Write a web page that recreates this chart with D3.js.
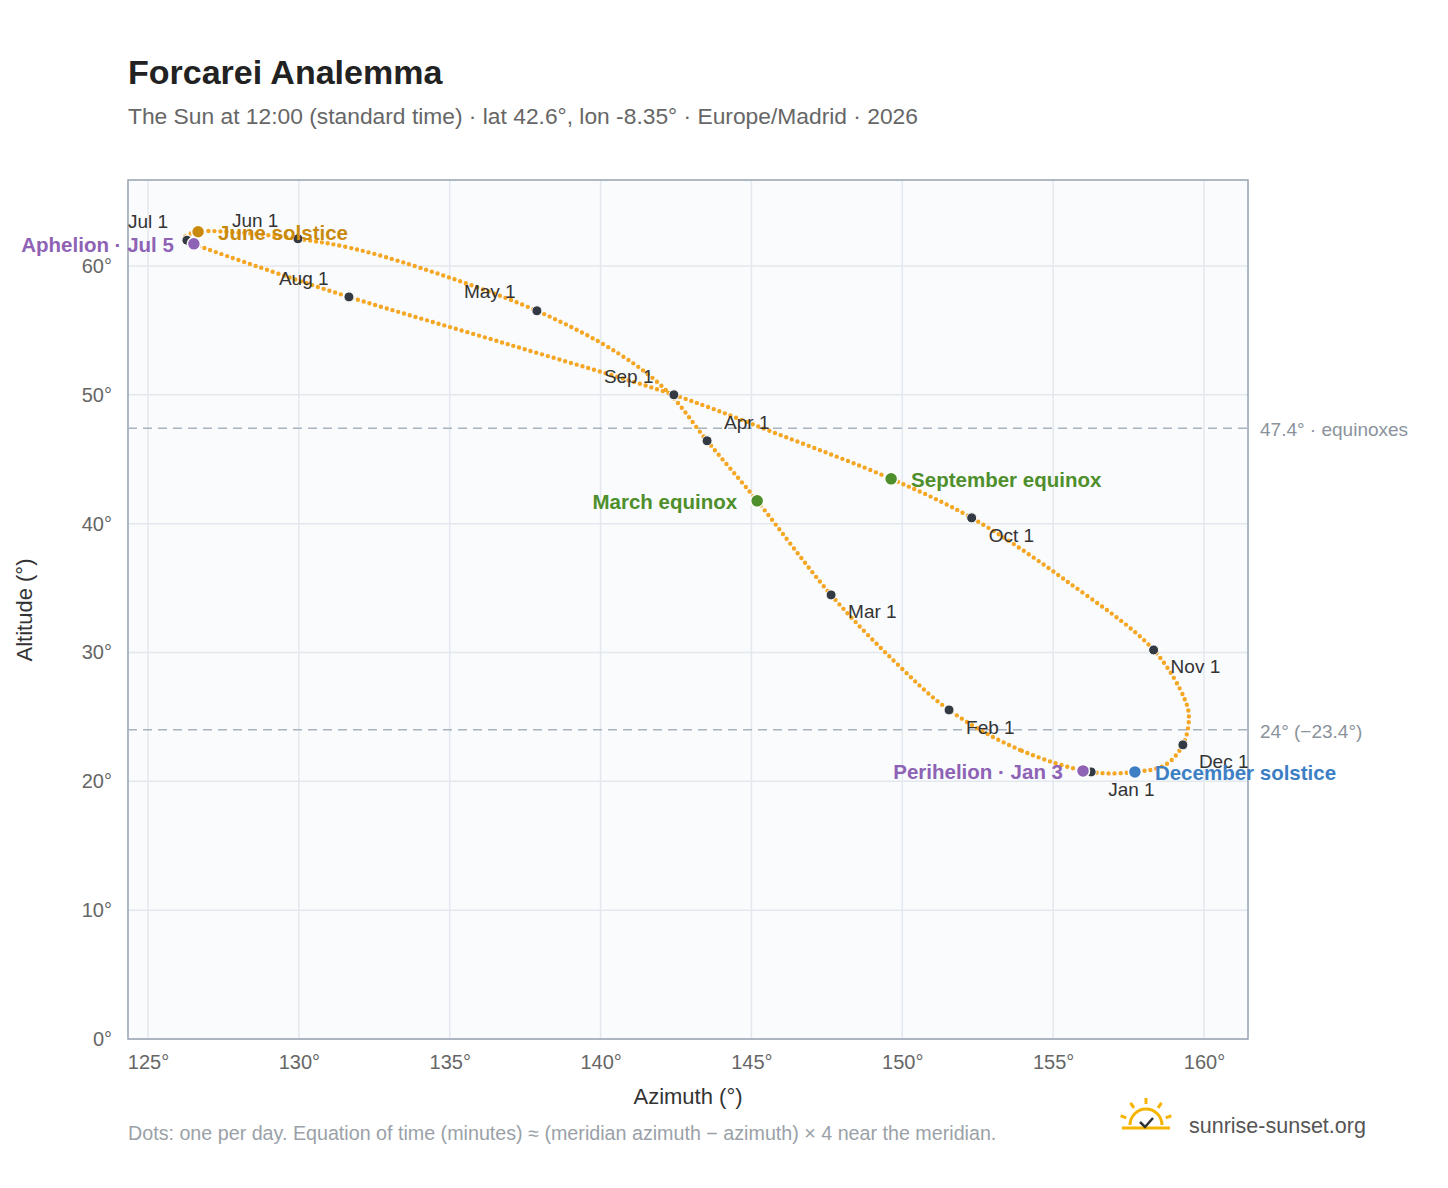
<!DOCTYPE html>
<html lang="en">
<head>
<meta charset="UTF-8">
<title>Forcarei Analemma</title>
<style>
  body { margin: 0; background: #fff; font-family: "Liberation Sans", Arial, sans-serif; }
</style>
</head>
<body>
<script src="https://d3js.org/d3.v7.min.js"></script>
<script>
// path of the sun at noon, traced in day order (azimuth, altitude in degrees)
var pathAz  = [156.26, 153.90, 151.55, 149.69, 147.64, 145.19, 143.53, 142.20, 140.60, 137.89, 134.02, 131.70, 129.97, 128.05, 126.66, 126.23, 126.29, 126.52, 129.04, 131.66, 137.00, 142.43, 145.95, 149.63, 152.30, 155.39, 158.33, 159.37, 159.50, 159.30, 158.71, 157.71];
var pathAlt = [20.73, 22.44, 25.54, 29.43, 34.47, 41.77, 46.43, 50.30, 53.20, 56.52, 59.86, 61.41, 62.11, 62.58, 62.66, 62.27, 62.00, 61.72, 59.63, 57.60, 53.88, 50.00, 46.89, 43.48, 40.45, 35.64, 30.20, 26.32, 24.92, 22.83, 21.27, 20.73];

var months   = ["Jan 1", "Feb 1", "Mar 1", "Apr 1", "May 1", "Jun 1", "Jul 1", "Aug 1", "Sep 1", "Oct 1", "Nov 1", "Dec 1"];
var monthAz  = [156.26, 151.55, 147.64, 143.53, 137.89, 129.97, 126.29, 131.66, 142.43, 152.30, 158.33, 159.30];
var monthAlt = [20.73, 25.54, 34.47, 46.43, 56.52, 62.11, 62.00, 57.60, 50.00, 40.45, 30.20, 22.83];

var events   = ["June solstice", "Aphelion · Jul 5", "March equinox", "September equinox", "Perihelion · Jan 3", "December solstice"];
var eventAz  = [126.66, 126.52, 145.19, 149.63, 155.99, 157.71];
var eventAlt = [62.66, 61.72, 41.77, 43.48, 20.81, 20.73];
var eventColor = ["#c98a0c", "#8e62b5", "#4e8f2c", "#4e8f2c", "#8e62b5", "#3d7fc4"];

var xTicks = [125, 130, 135, 140, 145, 150, 155, 160];
var yTicks = [0, 10, 20, 30, 40, 50, 60];
var refLines = [47.4, 24];
var refLabels = ["47.4° · equinoxes", "24° (−23.4°)"];

// label offsets (px) for the month labels
var monthOff = [[17, 24], [17, 24], [17, 23], [17, -12], [-73, -13], [-66, -12], [-59, -12], [-70, -12], [-70, -12], [17, 24], [17, 23], [16, 23]];
var eventOff = [[20, 8], [-20, 8], [-20, 8], [20, 8], [-20, 8], [20, 8]];
var eventAnchor = ["start", "end", "end", "start", "end", "start"];

var W = 1448, H = 1188;
var m = { left: 128, top: 180, right: 1248, bottom: 1039 };

var svg = d3.select("body").append("svg").attr("width", W).attr("height", H);

var x = d3.scaleLinear().domain([125, 160]).range([148, 1204]);
var y = d3.scaleLinear().domain([0, 60]).range([1039, 266]);

svg.append("text").attr("x", 128).attr("y", 84).attr("font-size", 34).attr("font-weight", "bold")
  .attr("fill", "#222").text("Forcarei Analemma");
svg.append("text").attr("x", 128).attr("y", 124).attr("font-size", 22.8).attr("fill", "#666")
  .text("The Sun at 12:00 (standard time) · lat 42.6°, lon -8.35° · Europe/Madrid · 2026");

svg.append("rect").attr("x", m.left).attr("y", m.top).attr("width", m.right - m.left)
  .attr("height", m.bottom - m.top).attr("fill", "#f9fbfd");

var grid = svg.append("g");
grid.selectAll(".gx").data(xTicks).enter().append("line")
  .attr("x1", d => x(d)).attr("x2", d => x(d)).attr("y1", m.top).attr("y2", m.bottom)
  .attr("stroke", "#e3e8ee").attr("stroke-width", 1.5);
grid.selectAll(".gy").data(yTicks).enter().append("line")
  .attr("y1", d => y(d)).attr("y2", d => y(d)).attr("x1", m.left).attr("x2", m.right)
  .attr("stroke", "#e3e8ee").attr("stroke-width", 1.5);

svg.append("rect").attr("x", m.left).attr("y", m.top).attr("width", m.right - m.left)
  .attr("height", m.bottom - m.top).attr("fill", "none").attr("stroke", "#97a3b0").attr("stroke-width", 1.5);

var xAxis = svg.append("g").attr("transform", "translate(0," + m.bottom + ")")
  .call(d3.axisBottom(x).tickValues(xTicks).tickSize(0).tickPadding(16).tickFormat(d => d + "°"));
var yAxis = svg.append("g").attr("transform", "translate(" + m.left + ",0)")
  .call(d3.axisLeft(y).tickValues(yTicks).tickSize(0).tickPadding(16).tickFormat(d => d + "°"));
[xAxis, yAxis].forEach(a => {
  a.select(".domain").remove();
  a.selectAll("text").attr("font-size", 20).attr("fill", "#666").attr("font-family", "Liberation Sans, Arial, sans-serif");
});

svg.append("text").attr("x", 688).attr("y", 1104).attr("text-anchor", "middle").attr("font-size", 22)
  .attr("fill", "#333").text("Azimuth (°)");
svg.append("text").attr("transform", "translate(32,610) rotate(-90)").attr("text-anchor", "middle")
  .attr("font-size", 22).attr("fill", "#333").text("Altitude (°)");

refLines.forEach((v, i) => {
  svg.append("line").attr("x1", m.left).attr("x2", m.right).attr("y1", y(v)).attr("y2", y(v))
    .attr("stroke", "#aab4bf").attr("stroke-width", 1.5).attr("stroke-dasharray", "9 6");
  svg.append("text").attr("x", 1260).attr("y", y(v) + 8).attr("font-size", 19).attr("fill", "#8a939c")
    .text(refLabels[i]);
});

var pts = pathAz.map((a, i) => [x(a), y(pathAlt[i])]);
var line = d3.line().curve(d3.curveCatmullRomClosed.alpha(0.5));
svg.append("path").attr("d", line(pts)).attr("fill", "none").attr("stroke", "#f5a623")
  .attr("stroke-width", 4.4).attr("stroke-linecap", "round").attr("stroke-dasharray", "0 6");

months.forEach((mo, i) => {
  var cx = x(monthAz[i]), cy = y(monthAlt[i]);
  svg.append("circle").attr("cx", cx).attr("cy", cy).attr("r", 5).attr("fill", "#333a44")
    .attr("stroke", "#fff").attr("stroke-width", 1);
  svg.append("text").attr("x", cx + monthOff[i][0]).attr("y", cy + monthOff[i][1])
    .attr("font-size", 19).attr("fill", "#333").text(mo);
});

events.forEach((ev, i) => {
  var cx = x(eventAz[i]), cy = y(eventAlt[i]);
  svg.append("circle").attr("cx", cx).attr("cy", cy).attr("r", 6.5).attr("fill", eventColor[i])
    .attr("stroke", "#fff").attr("stroke-width", 1.5);
  svg.append("text").attr("x", cx + eventOff[i][0]).attr("y", cy + eventOff[i][1])
    .attr("text-anchor", eventAnchor[i]).attr("font-size", 20.5).attr("font-weight", "bold")
    .attr("fill", eventColor[i]).text(ev);
});

svg.append("text").attr("x", 128).attr("y", 1140).attr("font-size", 19.7).attr("fill", "#9aa1a8")
  .text("Dots: one per day. Equation of time (minutes) ≈ (meridian azimuth − azimuth) × 4 near the meridian.");

// logo
var logo = svg.append("g").attr("transform", "translate(1146,1125)");
logo.append("path").attr("d", "M-16,0 A16,16 0 0 1 16,0").attr("fill", "none").attr("stroke", "#f5b400").attr("stroke-width", 3);
[-70, -35, 0, 35, 70].forEach(a => {
  var r = a * Math.PI / 180;
  logo.append("line").attr("x1", 21 * Math.sin(r)).attr("y1", -21 * Math.cos(r))
    .attr("x2", 27 * Math.sin(r)).attr("y2", -27 * Math.cos(r)).attr("stroke", "#f5b400").attr("stroke-width", 3);
});
logo.append("line").attr("x1", -24).attr("x2", 24).attr("y1", 3).attr("y2", 3).attr("stroke", "#f5b400").attr("stroke-width", 3);
logo.append("path").attr("d", "M-6,-3 L-1,2 L7,-7").attr("fill", "none").attr("stroke", "#333").attr("stroke-width", 2.5);
svg.append("text").attr("x", 1189).attr("y", 1133).attr("font-size", 21.5).attr("fill", "#555").text("sunrise-sunset.org");
</script>
</body>
</html>
